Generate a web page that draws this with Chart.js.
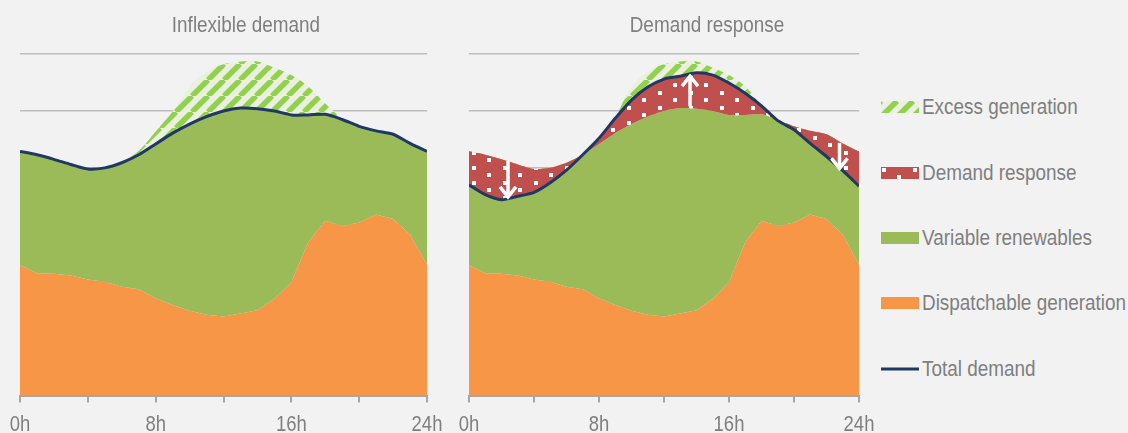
<!DOCTYPE html>
<html>
<head>
<meta charset="utf-8">
<script src="https://cdn.jsdelivr.net/npm/chart.js@4.4.1/dist/chart.umd.min.js"></script>
<style>
  html, body { margin: 0; padding: 0; background: #f2f2f2; }
  body { width: 1128px; height: 433px; position: relative; overflow: hidden;
         font-family: 'Liberation Sans', Arial, sans-serif; color: #7f7f7f; }
  .box { position: absolute; top: 0; height: 433px; }
  .title { position: absolute; top: 12px; font-size: 22px; line-height: 26px;
           transform: translateX(-50%) scaleX(0.86); white-space: nowrap; }
  .item { position: absolute; left: 881px; height: 26px; line-height: 26px; font-size: 22px;
          display: flex; align-items: center; white-space: nowrap; }
  .item canvas { width: 38px; height: 12px; margin-right: 3px; }
  .item span { display: inline-block; transform: scaleX(0.86); transform-origin: left center; }
</style>
</head>
<body>
<div class="box" style="left:0;width:450px"><canvas id="left"></canvas></div>
<div class="box" style="left:440px;width:440px"><canvas id="right"></canvas></div>
<div class="title" style="left:246px">Inflexible demand</div>
<div class="title" style="left:707px">Demand response</div>
<div id="legend"></div>

<script>
// hours of the day
var hours = [0,1,2,3,4,5,6,7,8,9,10,11,12,13,14,15,16,17,18,19,20,21,22,23,24];

// dispatchable generation (same in both panels)
var dispatchable = [2.29, 2.15, 2.14, 2.11, 2.04, 2.0, 1.91, 1.87, 1.71, 1.59, 1.49, 1.42, 1.39,
                    1.44, 1.5, 1.7, 1.99, 2.7, 3.07, 2.98, 3.04, 3.18, 3.1, 2.83, 2.3];

// original (inflexible) demand
var demand = [4.29, 4.23, 4.15, 4.06, 3.98, 4.0, 4.09, 4.23, 4.42, 4.61, 4.77, 4.9, 5.0,
              5.05, 5.04, 5.0, 4.93, 4.93, 4.94, 4.85, 4.73, 4.65, 4.59, 4.43, 4.29];

// demand after demand response
var shiftedDemand = [3.7, 3.53, 3.44, 3.5, 3.57, 3.74, 3.96, 4.23, 4.52, 4.87, 5.19, 5.42, 5.56,
                     5.61, 5.67, 5.63, 5.49, 5.31, 5.09, 4.83, 4.67, 4.43, 4.2, 3.95, 3.68];

// top of excess generation (only where above demand)
var excessLeft = [null, null, null, null, null, null, 4.09, 4.3, 4.64, 4.99, 5.42, 5.69, 5.82,
                  5.87, 5.87, 5.76, 5.63, 5.43, 5.13, 4.85, null, null, null, null, null];
var excessRight = [null, null, null, null, null, null, null, null, null, 4.87, 5.42, 5.69, 5.82,
                   5.87, 5.87, 5.76, 5.63, 5.43, 5.09, null, null, null, null, null, null];

// white arrows in the demand response panel
var arrowHour = [2.4, 13.6, 22.8];
var arrowFrom = [4.12, 5.08, 4.44];
var arrowTo = [3.49, 5.61, 3.99];

var orange = '#f79646';
var green = '#9bbb59';
var navy = '#1f3864';
var grey = '#7f7f7f';

function hatchPattern(){
    var s = 16;
    var c = document.createElement('canvas');
    c.width = s; c.height = s;
    var g = c.getContext('2d');
    g.fillStyle = '#ebf1de';
    g.fillRect(0, 0, s, s);
    g.strokeStyle = '#92d050';
    g.lineWidth = 5.5;
    [-s, 0, s].forEach(function(o){
        g.beginPath(); g.moveTo(o, s); g.lineTo(o + s, 0); g.stroke();
    });
    return g.createPattern(c, 'repeat');
}

function dotPattern(){
    var c = document.createElement('canvas');
    c.width = 31; c.height = 15;
    var g = c.getContext('2d');
    g.fillStyle = '#c0504d';
    g.fillRect(0, 0, 31, 15);
    g.fillStyle = '#ffffff';
    g.fillRect(1, 1, 4, 4);
    g.fillRect(16, 8, 4, 4);
    return g.createPattern(c, 'repeat');
}

var hatch = hatchPattern();
var dots = dotPattern();

Chart.defaults.font.family = "'Liberation Sans', Arial, sans-serif";
Chart.defaults.font.size = 22;
Chart.defaults.color = grey;

var arrowPlugin = {
    id: 'arrows',
    afterDatasetsDraw: function(chart, args, opts){
        if (!opts.show) return;
        var ctx = chart.ctx, xs = chart.scales.x, ys = chart.scales.y;
        ctx.save();
        ctx.strokeStyle = '#ffffff';
        ctx.lineWidth = 3.5;
        for (var i = 0; i < arrowHour.length; i++){
            var x = xs.getPixelForValue(arrowHour[i]);
            var y0 = ys.getPixelForValue(arrowFrom[i]);
            var y1 = ys.getPixelForValue(arrowTo[i]);
            var dir = y1 > y0 ? 1 : -1;
            ctx.beginPath();
            ctx.moveTo(x, y0); ctx.lineTo(x, y1 - dir * 2);
            ctx.stroke();
            ctx.beginPath();
            ctx.moveTo(x - 8, y1 - dir * 10); ctx.lineTo(x, y1); ctx.lineTo(x + 8, y1 - dir * 10);
            ctx.stroke();
        }
        ctx.restore();
    }
};

// narrow tick labels: the space is kept by chart.js, the text is drawn squeezed here
var narrowTicks = {
    id: 'narrowTicks',
    afterDraw: function(chart){
        var ctx = chart.ctx, xs = chart.scales.x;
        ctx.save();
        ctx.font = "22px 'Liberation Sans', Arial, sans-serif";
        ctx.fillStyle = grey;
        ctx.textAlign = 'center';
        ctx.textBaseline = 'alphabetic';
        xs.ticks.forEach(function(t){
            if (t.value % 8 !== 0) return;
            ctx.save();
            ctx.translate(xs.getPixelForValue(t.value), 431);
            ctx.scale(0.84, 1);
            ctx.fillText(t.value + 'h', 0, 0);
            ctx.restore();
        });
        ctx.restore();
    }
};

function baseOptions(pad, showArrows){
    return {
        responsive: true,
        maintainAspectRatio: false,
        animation: false,
        layout: { padding: pad },
        elements: { point: { radius: 0 } },
        plugins: { legend: { display: false }, tooltip: { enabled: false }, arrows: { show: showArrows } },
        scales: {
            x: {
                type: 'linear', min: 0, max: 24,
                ticks: { stepSize: 4, autoSkip: false, maxRotation: 0, padding: 2, color: 'rgba(0,0,0,0)',
                         callback: function(v){ return v % 8 === 0 ? v + 'h' : ''; } },
                grid: { drawOnChartArea: false, drawTicks: true, tickLength: 7, color: '#a6a6a6', lineWidth: 2 },
                border: { color: '#a6a6a6', width: 2 }
            },
            y: {
                min: 0, max: 6,
                ticks: { display: false, stepSize: 1 },
                grid: { color: '#bdbdbd', lineWidth: 1.5, drawTicks: false },
                border: { display: false }
            }
        }
    };
}

new Chart(document.getElementById('left'), {
    type: 'line',
    data: {
        labels: hours,
        datasets: [
            { data: dispatchable, backgroundColor: orange, borderWidth: 0, fill: 'origin', tension: 0, order: 5 },
            { data: demand, backgroundColor: green, borderWidth: 0, fill: { target: 0 }, tension: 0.25, order: 4 },
            { data: excessLeft, backgroundColor: hatch, borderWidth: 0, tension: 0.4, spanGaps: false,
              fill: { target: 3, above: hatch, below: 'rgba(0,0,0,0)' }, order: 3 },
            { data: demand, borderColor: navy, borderWidth: 3, fill: false, tension: 0.25, order: 0 }
        ]
    },
    options: baseOptions({ left: 20, right: 23, top: 54, bottom: 0 }, false),
    plugins: [arrowPlugin, narrowTicks]
});

new Chart(document.getElementById('right'), {
    type: 'line',
    data: {
        labels: hours,
        datasets: [
            { data: dispatchable, backgroundColor: orange, borderWidth: 0, fill: 'origin', tension: 0, order: 6 },
            { data: demand, backgroundColor: green, borderWidth: 0, fill: { target: 0 }, tension: 0.25, order: 5 },
            { data: demand, backgroundColor: dots, borderWidth: 0, fill: { target: 4 }, tension: 0.25, order: 4 },
            { data: excessRight, backgroundColor: hatch, borderWidth: 0, tension: 0.4, spanGaps: false,
              fill: { target: 4, above: hatch, below: 'rgba(0,0,0,0)' }, order: 3 },
            { data: shiftedDemand, borderColor: navy, borderWidth: 3, fill: false, tension: 0.25, order: 0 }
        ]
    },
    options: baseOptions({ left: 29, right: 21, top: 54, bottom: 0 }, true),
    plugins: [arrowPlugin, narrowTicks]
});

// legend
var legendItems = [
    { label: 'Excess generation', fill: hatch, y: 107 },
    { label: 'Demand response', fill: dots, y: 173 },
    { label: 'Variable renewables', fill: green, y: 238 },
    { label: 'Dispatchable generation', fill: orange, y: 303 },
    { label: 'Total demand', line: navy, y: 369 }
];
var legend = document.getElementById('legend');
legendItems.forEach(function(it){
    var div = document.createElement('div');
    div.className = 'item';
    div.style.top = (it.y - 13) + 'px';
    var c = document.createElement('canvas');
    c.width = 38; c.height = 12;
    var g = c.getContext('2d');
    if (it.line){
        g.fillStyle = it.line;
        g.fillRect(0, 4.5, 38, 3);
    } else {
        g.fillStyle = it.fill;
        g.fillRect(0, 0, 38, 12);
    }
    div.appendChild(c);
    var span = document.createElement('span');
    span.textContent = it.label;
    div.appendChild(span);
    legend.appendChild(div);
});
</script>
</body>
</html>
